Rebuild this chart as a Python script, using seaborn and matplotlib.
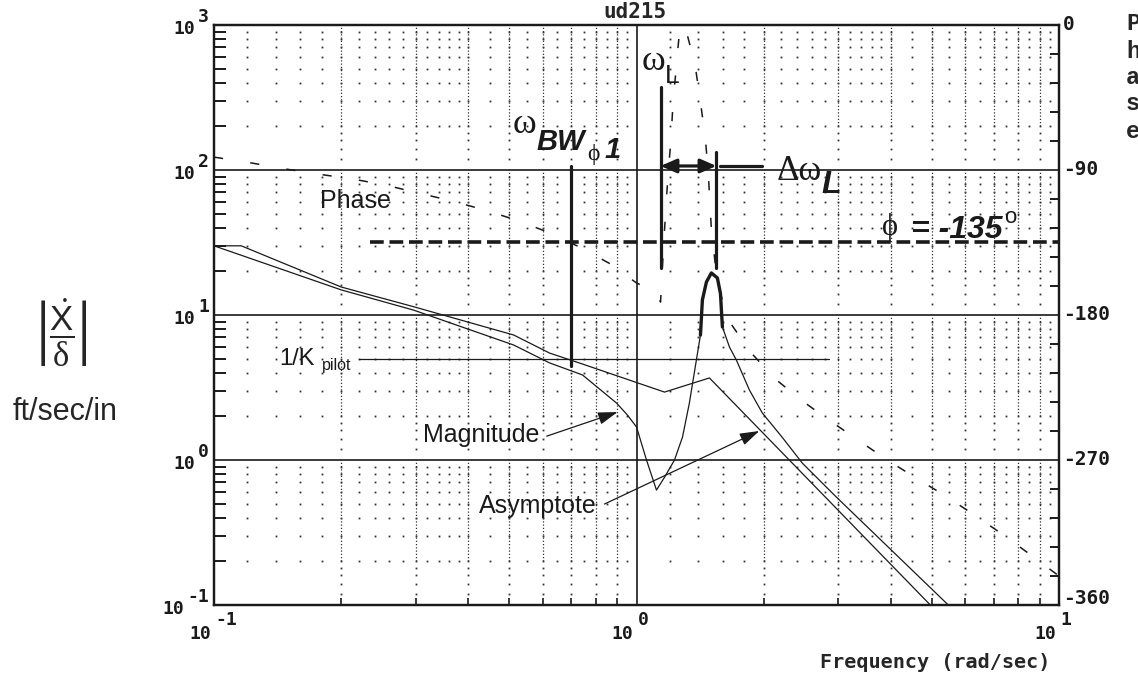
import numpy as np
import pandas as pd
import matplotlib
matplotlib.use("Agg")
import matplotlib.pyplot as plt
import matplotlib.ticker as mticker
import seaborn as sns

# --- nilai (ud215) ---
mag_freq = [0.1, 0.2, 0.297, 0.512, 0.623, 0.745, 0.897, 0.952, 1.0, 1.056, 1.115,
            1.165, 1.23, 1.285, 1.334, 1.386, 1.417, 1.432, 1.464, 1.504, 1.554, 1.58,
            1.597, 1.66, 1.723, 1.85, 1.985, 2.21, 2.47, 2.97, 5.47]
mag_val = [30, 14.9, 10.8, 6.21, 4.67, 3.86, 2.47, 2.04, 1.69, 1.0, 0.62,
           0.76, 1.0, 1.44, 2.47, 4.9, 7.27, 12.7, 16.9, 19.5, 18.0, 14.1,
           8.27, 6.0, 4.9, 3.04, 2.11, 1.44, 0.95, 0.556, 0.1]

asy_freq = [0.1, 0.116, 0.2, 0.297, 0.512, 0.623, 0.745, 1.165, 1.488, 4.96]
asy_val = [30, 30, 15.6, 11.4, 7.28, 5.46, 4.59, 2.94, 3.68, 0.1]

ph_freq = [0.1, 0.123, 0.148, 0.176, 0.213, 0.254, 0.305, 0.365, 0.437, 0.518, 0.616,
           0.733, 0.859, 1.0, 1.124, 1.14, 1.16, 1.187, 1.206, 1.22, 1.264, 1.30, 1.375,
           1.416, 1.456, 1.48, 1.504, 1.546, 1.606, 1.668, 1.87, 2.13, 2.47, 2.875, 3.37,
           3.92, 4.59, 5.44, 6.36, 7.45, 8.68, 10.0]
ph_val = [-82, -85.7, -89.4, -92.5, -95.6, -99.3, -104.3, -109.2, -114.8, -121.0, -128.5,
          -137.8, -147.7, -160.1, -166.3, -172, -135, -93.4, -72.0, -48.7, -4.0, 0, -24.2,
          -47.2, -70.8, -93.7, -127, -155, -173.8, -185.0, -203.6, -219.7, -233.4, -245.8, -258.2,
          -270, -281.2, -293.0, -304.8, -317.2, -330, -342]

peak_lo, peak_hi = 1.41, 1.60          # bagian puncak yang ditebalkan
omega_bw, bw_top, bw_bot = 0.698, 106, 4.45
omega_L, L_top, L_bot = 1.14, 373, 21.1
omega_pk, pk_top = 1.546, 133
arrow_lvl = 106.6
ext_x = (1.572, 1.986)
kpilot, kpilot_x = 5.01, (0.22, 2.86)
phase_ref, phase_ref_x0 = -135, 0.234

ytick_vals = [0.1, 1, 10, 100, 1000]
ytick_exp = ["-1", "0", "1", "2", "3"]
xtick_vals = [0.1, 1, 10]
xtick_exp = ["-1", "0", "1"]
ph_ticks = [-360, -270, -180, -90, 0]
ph_labels = ["-360", "-270", "-180", "-90", "0"]

sns.set_theme(style="white")
plt.rcParams["font.family"] = ["Liberation Sans", "DejaVu Sans"]
plt.rcParams["mathtext.fontset"] = "custom"
plt.rcParams["mathtext.rm"] = "Liberation Serif"
plt.rcParams["mathtext.sf"] = "Liberation Sans"
plt.rcParams["mathtext.it"] = "Liberation Serif:italic"

W, H = 1138, 674
PX = 0.72  # 1 px dalam point
fig = plt.figure(figsize=(W / 100, H / 100), dpi=100)
fig.patch.set_facecolor("white")
ax = fig.add_axes([214 / W, 1 - 605 / H, (1059 - 214) / W, (605 - 25) / H])
ax.set_facecolor("white")
ax.set_xscale("log")
ax.set_yscale("log")
ax.set_xlim(0.1, 10)
ax.set_ylim(0.1, 1000)

# grid titik-titik ala plot lama
fine = [1.2, 1.4, 1.6, 1.8, 2, 2.2, 2.4, 2.6, 2.8, 3, 3.2, 3.4, 3.6, 3.8, 4,
        4.5, 5, 5.5, 6, 6.5, 7, 7.5, 8, 8.5, 9, 9.5]
dec_x = [0.1, 1]
dec_y = [0.1, 1, 10, 100]
dot_kw = dict(ls="none", marker="s", ms=1.3, mew=0, color="#333333", zorder=1)
xs_fine = [f * d for d in dec_x for f in fine]
for d in dec_y:
    for m in range(2, 10):
        ax.plot(xs_fine, [m * d] * len(xs_fine), **dot_kw)
for dx in dec_x:
    for m in range(2, 10):
        for d in dec_y:
            ax.plot([m * dx] * 2, [2 * d, 10 * d], color="#333333", lw=0.9,
                    ls=(0, (1, 1.6)), zorder=1)
            ax.plot([m * dx] * 4, [1.2 * d, 1.4 * d, 1.6 * d, 1.8 * d], **dot_kw)
for v in [1, 10, 100]:
    ax.axhline(v, color="k", lw=1.2, zorder=2)
ax.axvline(1, color="k", lw=1.2, zorder=2)

# kurva magnitude & asimtot
mag = pd.DataFrame({"freq": mag_freq, "mag": mag_val})
asy = pd.DataFrame({"freq": asy_freq, "mag": asy_val})
sns.lineplot(data=asy, x="freq", y="mag", ax=ax, color="k", linewidth=0.9,
             estimator=None, sort=False, zorder=4)
sns.lineplot(data=mag, x="freq", y="mag", ax=ax, color="k", linewidth=0.9,
             estimator=None, sort=False, zorder=4)
peak = mag[(mag["freq"] >= peak_lo) & (mag["freq"] <= peak_hi)]
sns.lineplot(data=peak, x="freq", y="mag", ax=ax, color="k", linewidth=2.4,
             estimator=None, sort=False, zorder=4)

# garis penanda
ax.plot(kpilot_x, [kpilot, kpilot], color="k", lw=0.9, zorder=3)
ax.plot([omega_bw, omega_bw], [bw_top, bw_bot], color="k", lw=2.3, zorder=5)
ax.plot([omega_L, omega_L], [L_top, L_bot], color="k", lw=2.3, zorder=5)
ax.plot([omega_pk, omega_pk], [pk_top, L_bot], color="k", lw=2.3, zorder=5)
ax.plot(ext_x, [arrow_lvl, arrow_lvl], color="k", lw=2.3, zorder=5)
ax.annotate("", xy=(omega_pk, arrow_lvl), xytext=(omega_L, arrow_lvl),
            arrowprops=dict(arrowstyle="<|-|>,head_length=0.8,head_width=0.35",
                            color="k", lw=2.3, mutation_scale=12, shrinkA=0, shrinkB=0),
            zorder=5)
arw = dict(arrowstyle="-|>,head_length=1.0,head_width=0.32", color="k", lw=0.9,
           mutation_scale=12, shrinkA=0, shrinkB=0)
ax.annotate("", xy=(0.902, 2.14), xytext=(0.613, 1.46), arrowprops=arw, zorder=6)
ax.annotate("", xy=(1.953, 1.585), xytext=(0.840, 0.497), arrowprops=arw, zorder=6)

# teks di dalam grafik
serif = ["Liberation Serif", "DejaVu Serif"]
bi = dict(fontweight="bold", fontstyle="italic")
tkw = dict(ha="left", va="baseline", color="k", zorder=7)
ax.text(0.178, 54.7, "Phase", fontsize=18, **tkw)
ax.text(0.143, 4.52, "1/K", fontsize=17, **tkw)
ax.text(0.180, 4.17, "pilot", fontsize=11.5, **tkw)
ax.text(0.312, 1.33, "Magnitude", fontsize=18, **tkw)
ax.text(0.423, 0.431, "Asymptote", fontsize=18, **tkw)
ax.text(0.509, 180, "ω", fontsize=26, family=serif, **tkw)
ax.text(0.580, 137, "BW", fontsize=21, **bi, **tkw)
ax.text(0.766, 117, "ϕ", fontsize=17, family=serif, **tkw)
ax.text(0.840, 121, "1", fontsize=21, **bi, **tkw)
ax.text(1.027, 490, "ω", fontsize=26, family=serif, **tkw)
ax.text(1.165, 398, "L", fontsize=19, **tkw)
ax.text(2.143, 85.3, "Δω", fontsize=25, family=serif, **tkw)
ax.text(2.737, 69.4, "L", fontsize=23, **bi, **tkw)

# kurva fasa di sumbu kanan
ax2 = ax.twinx()
ax2.set_ylim(-360, 0)
phase = pd.DataFrame({"freq": ph_freq, "phase": ph_val})
sns.lineplot(data=phase, x="freq", y="phase", ax=ax2, color="k", linewidth=1.1,
             linestyle=(0, (6, 18)), estimator=None, sort=False)
ax2.plot([phase_ref_x0, 10], [phase_ref, phase_ref], color="k", lw=2.6,
         dashes=(3.8, 1.6))
ax2.text(3.816, -130.4, "ϕ", fontsize=22, family=serif, **tkw)
ax2.text(4.467, -132.2, "= -135", fontsize=23, **bi, **tkw)
ax2.text(7.41, -122.9, "o", fontsize=16, **tkw)

ax.set_xlabel("")
ax.set_ylabel("")
ax2.set_xlabel("")
ax2.set_ylabel("")

# sumbu & tick
for a in (ax, ax2):
    for sp in a.spines.values():
        sp.set_color("k")
        sp.set_linewidth(1.6)
ax.yaxis.set_major_locator(mticker.FixedLocator(ytick_vals))
ax.xaxis.set_major_locator(mticker.FixedLocator(xtick_vals))
ax.yaxis.set_minor_locator(mticker.LogLocator(base=10, subs=np.arange(2, 10), numticks=50))
ax.xaxis.set_minor_locator(mticker.LogLocator(base=10, subs=np.arange(2, 10), numticks=50))
ax.yaxis.set_minor_formatter(mticker.NullFormatter())
ax.xaxis.set_minor_formatter(mticker.NullFormatter())
ax.tick_params(which="major", length=0, labelleft=False, labelbottom=False)
ax.tick_params(axis="y", which="minor", direction="in", length=8.5, width=1.4,
               left=True, right=False, color="k")
ax.tick_params(axis="x", which="minor", direction="in", length=5, width=1.2,
               bottom=True, top=False, color="k")

ax2.set_yticks(ph_ticks)
ax2.yaxis.set_minor_locator(mticker.MultipleLocator(18))
ax2.tick_params(axis="y", which="major", length=0, labelright=False)
ax2.tick_params(axis="y", which="minor", direction="in", length=6.5, width=1.4,
                right=True, color="k")

mono = dict(family="DejaVu Sans Mono", fontweight="bold", fontsize=13, color="k",
            textcoords="offset points", annotation_clip=False)
for v, lab in zip(ph_ticks, ph_labels):
    dy = 7 if v == -360 else 0
    ax2.annotate(lab, xy=(1, v), xycoords=("axes fraction", "data"),
                 xytext=(4 * PX, dy * PX), ha="left", va="center",
                 **{**mono, "fontsize": 14})
for yv, ex in zip(ytick_vals, ytick_exp):
    ax.annotate(ex, xy=(0, yv), xycoords=("axes fraction", "data"),
                xytext=(-5 * PX, 8 * PX), ha="right", va="center", **mono)
    ax.annotate("10", xy=(0, yv), xycoords=("axes fraction", "data"),
                xytext=(-(8 + 11 * len(ex)) * PX, -4 * PX), ha="right", va="center", **mono)
for xv, ex in zip(xtick_vals, xtick_exp):
    ax.annotate("10", xy=(xv, 0), xycoords=("data", "axes fraction"),
                xytext=(-3 * PX, -29 * PX), ha="right", va="center", **mono)
    ax.annotate(ex, xy=(xv, 0), xycoords=("data", "axes fraction"),
                xytext=(1 * PX, -15 * PX), ha="left", va="center", **mono)

# teks di luar grafik
fig.text(635 / W, 1 - 18 / H, "ud215", ha="center", va="baseline", fontsize=15,
         family="DejaVu Sans Mono", fontweight="bold")
fig.text(1050 / W, 1 - 662 / H, "Frequency (rad/sec)", ha="right", va="center",
         fontsize=14.5, family="DejaVu Sans Mono", fontweight="bold")
fig.text(61 / W, 1 - 333 / H, r"$\left|\dfrac{\dot{\mathsf{X}}}{\mathrm{\delta}}\right|$",
         ha="center", va="center", fontsize=25)
fig.text(65 / W, 1 - 420 / H, "ft/sec/in", ha="center", va="baseline", fontsize=22)
for ch, cy in zip("Phase", [24, 51, 78, 104, 131]):
    fig.text(1133 / W, 1 - cy / H, ch, ha="center", va="center", fontsize=17,
             family="Liberation Mono", fontweight="bold")

fig.savefig("out.png", dpi=100)
